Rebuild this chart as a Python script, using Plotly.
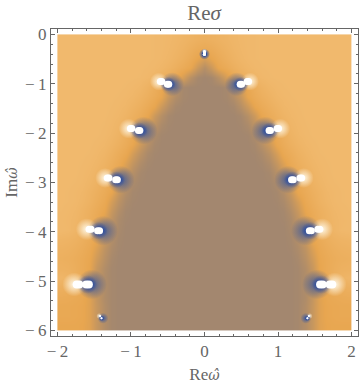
import plotly.graph_objects as go

# half of the density plot, x = 0..2 step 0.1, mirrored for x < 0
x_half = [0.0, 0.1, 0.2, 0.3, 0.4, 0.5, 0.6, 0.7, 0.8, 0.9, 1.0, 1.1, 1.2, 1.3, 1.4, 1.5, 1.6, 1.7, 1.8, 1.9, 2.0]
y_rows = [0.0, -0.2, -0.4, -0.6, -0.8, -1.0, -1.2, -1.4, -1.6, -1.8, -2.0, -2.2, -2.4, -2.6, -2.8, -3.0,
          -3.2, -3.4, -3.6, -3.8, -4.0, -4.2, -4.4, -4.6, -4.8, -5.0, -5.2, -5.4, -5.6, -5.8, -6.0]
# 0 = tan inside, 50 = orange ridge, 100 = light orange outside
z_half = [
    [72, 74, 78, 82, 86, 89, 91, 92, 93, 93, 93, 93, 93, 93, 93, 93, 93, 93, 93, 93, 93],
    [60, 64, 71, 78, 84, 88, 91, 92, 93, 93, 93, 93, 93, 93, 93, 93, 93, 93, 93, 93, 93],
    [38, 50, 62, 72, 80, 86, 90, 92, 93, 93, 93, 93, 93, 93, 93, 93, 93, 93, 93, 93, 93],
    [14, 30, 52, 62, 72, 80, 86, 90, 92, 93, 93, 93, 93, 93, 93, 93, 93, 93, 93, 93, 93],
    [0, 3, 16, 36, 56, 66, 76, 84, 89, 92, 93, 93, 93, 93, 93, 93, 93, 93, 93, 93, 93],
    [0, 0, 0, 2, 11, 30, 54, 68, 78, 86, 90, 92, 93, 93, 93, 93, 93, 93, 93, 93, 93],
    [0, 0, 0, 2, 11, 26, 50, 62, 72, 80, 87, 90, 92, 93, 93, 93, 93, 93, 93, 93, 93],
    [0, 0, 0, 0, 3, 14, 30, 50, 62, 72, 80, 87, 90, 92, 93, 93, 93, 93, 93, 93, 93],
    [0, 0, 0, 0, 0, 3, 14, 30, 52, 64, 74, 82, 88, 91, 93, 93, 93, 93, 93, 93, 93],
    [0, 0, 0, 0, 0, 1, 6, 18, 36, 56, 66, 76, 84, 89, 92, 93, 93, 93, 93, 93, 93],
    [0, 0, 0, 0, 0, 0, 1, 7, 20, 40, 58, 70, 80, 87, 91, 93, 93, 93, 93, 93, 93],
    [0, 0, 0, 0, 0, 0, 0, 3, 14, 30, 52, 64, 74, 82, 88, 91, 93, 93, 93, 93, 93],
    [0, 0, 0, 0, 0, 0, 0, 1, 6, 18, 36, 56, 66, 76, 84, 89, 92, 93, 93, 93, 93],
    [0, 0, 0, 0, 0, 0, 0, 0, 2, 9, 24, 42, 59, 70, 79, 86, 90, 92, 93, 93, 93],
    [0, 0, 0, 0, 0, 0, 0, 0, 0, 3, 14, 30, 52, 64, 74, 82, 88, 91, 93, 93, 93],
    [0, 0, 0, 0, 0, 0, 0, 0, 0, 1, 6, 18, 36, 56, 68, 78, 85, 90, 92, 93, 93],
    [0, 0, 0, 0, 0, 0, 0, 0, 0, 0, 2, 11, 26, 50, 62, 72, 80, 87, 90, 92, 93],
    [0, 0, 0, 0, 0, 0, 0, 0, 0, 0, 1, 6, 18, 36, 57, 68, 78, 85, 90, 92, 93],
    [0, 0, 0, 0, 0, 0, 0, 0, 0, 0, 0, 2, 11, 26, 50, 62, 72, 80, 87, 90, 92],
    [0, 0, 0, 0, 0, 0, 0, 0, 0, 0, 0, 1, 6, 19, 40, 58, 70, 78, 85, 89, 91],
    [0, 0, 0, 0, 0, 0, 0, 0, 0, 0, 0, 0, 4, 16, 33, 54, 66, 76, 84, 90, 92],
    [0, 0, 0, 0, 0, 0, 0, 0, 0, 0, 0, 0, 2, 11, 26, 50, 62, 70, 76, 80, 82],
    [0, 0, 0, 0, 0, 0, 0, 0, 0, 0, 0, 0, 1, 7, 20, 40, 56, 64, 70, 74, 76],
    [0, 0, 0, 0, 0, 0, 0, 0, 0, 0, 0, 0, 0, 4, 16, 33, 52, 60, 66, 70, 72],
    [0, 0, 0, 0, 0, 0, 0, 0, 0, 0, 0, 0, 0, 2, 11, 26, 50, 60, 68, 74, 76],
    [0, 0, 0, 0, 0, 0, 0, 0, 0, 0, 0, 0, 0, 2, 9, 24, 44, 60, 72, 82, 86],
    [0, 0, 0, 0, 0, 0, 0, 0, 0, 0, 0, 0, 0, 2, 9, 24, 44, 58, 64, 70, 72],
    [0, 0, 0, 0, 0, 0, 0, 0, 0, 0, 0, 0, 0, 2, 9, 24, 44, 54, 58, 60, 62],
    [0, 0, 0, 0, 0, 0, 0, 0, 0, 0, 0, 0, 0, 2, 11, 26, 44, 52, 54, 56, 56],
    [0, 0, 0, 0, 0, 0, 0, 0, 0, 0, 0, 0, 0, 2, 11, 26, 44, 52, 54, 56, 56],
    [0, 0, 0, 0, 0, 0, 0, 0, 0, 0, 0, 0, 0, 2, 11, 26, 44, 50, 52, 52, 52],
]

# poles on the right half (mirrored): blue inner ones and white outer ones
inner_x = [0.0, 0.495, 0.888, 1.196, 1.44, 1.59, 1.40]
inner_y = [-0.40, -1.01, -1.95, -2.945, -3.98, -5.07, -5.755]
outer_x = [0.0, 0.59, 0.997, 1.31, 1.555, 1.72, 1.42]
outer_y = [-0.35, -0.957, -1.91, -2.91, -3.95, -5.07, -5.71]
# white blobs are wider than tall: two overlapping dots, blob_dx either side of the pole
blob_size = [3, 7, 7, 7, 7, 8, 2]
blob_dx = [0.0, 0.01, 0.01, 0.012, 0.014, 0.018, 0.0]
# centres of the halos sit a little inward / outward of the poles
halo_x = [0.0, 0.44, 0.83, 1.14, 1.38, 1.53, 1.38]
halo_size = [11, 24, 28, 28, 30, 30, 11]
core_size = [6, 15, 17, 17, 18, 19, 6]
glow_x = [0.0, 0.62, 1.03, 1.35, 1.60, 1.77, 1.43]
glow_size = [6, 18, 20, 20, 22, 24, 6]

x_ticks = [-2, -1, 0, 1, 2]
y_ticks = [0, -1, -2, -3, -4, -5, -6]
grey = '#666666'
serif = 'Liberation Serif'
omega_hat = '<span style="font-family:DejaVu Serif;font-style:italic;font-size:14px">\u03c9\u0302</span>'


def label(v):
    return str(v) if v >= 0 else '\u2212\u2009' + str(-v)


def both_sides(vals):
    return list(vals) + [-v for v in vals]


# heatmap cells reach half a step past their centres, so pull the centres in to stop at x=+-2, y=0, y=-6
x_full = [-v * 40 / 41 for v in x_half[:0:-1]] + [v * 40 / 41 for v in x_half]
y_full = [-3 + (v + 3) * 30 / 31 for v in y_rows]
z_full = [row[:0:-1] + row for row in z_half]

# each pole gives two white dots, on both sides of x=0
poles_x = inner_x + outer_x
poles_y = inner_y + outer_y
dots_dx = blob_dx + blob_dx
dots_x = [p - d for p, d in zip(poles_x, dots_dx)] + [p + d for p, d in zip(poles_x, dots_dx)]
dots_y = poles_y * 2
dots_size = (blob_size + blob_size) * 2

fig = go.Figure()
fig.add_trace(go.Heatmap(
    x=x_full, y=y_full, z=z_full,
    zmin=0, zmax=100, zsmooth='best', showscale=False, hoverinfo='skip',
    colorscale=[[0, '#A3876F'], [0.5, '#E8A650'], [1, '#F2BC72']],
))
# white glow round the outer poles
fig.add_trace(go.Scatter(
    x=both_sides(glow_x), y=outer_y * 2, mode='markers', showlegend=False,
    marker=dict(size=glow_size * 2, color='rgba(255,248,230,0)', line_width=0, opacity=1,
                gradient=dict(type='radial', color='rgba(255,248,230,1)')),
))
# blue halo round the inner poles
fig.add_trace(go.Scatter(
    x=both_sides(halo_x), y=inner_y * 2, mode='markers', showlegend=False,
    marker=dict(size=halo_size * 2, color='rgba(40,80,165,0)', line_width=0, opacity=1,
                gradient=dict(type='radial', color='rgba(40,80,165,0.85)')),
))
fig.add_trace(go.Scatter(
    x=both_sides(inner_x), y=inner_y * 2, mode='markers', showlegend=False,
    marker=dict(size=core_size * 2, color='rgba(25,65,165,0)', line_width=0, opacity=1,
                gradient=dict(type='radial', color='rgba(25,65,165,1)')),
))
fig.add_trace(go.Scatter(
    x=both_sides(dots_x), y=dots_y * 2, mode='markers', showlegend=False,
    marker=dict(size=dots_size * 2, color='white', line_width=0, opacity=1),
))

axis_style = dict(
    showgrid=False, zeroline=False, showline=True, linecolor=grey, linewidth=1, mirror='ticks',
    ticks='inside', ticklen=4, tickcolor=grey, tickwidth=1,
    tickfont=dict(family=serif, size=17, color=grey),
)
fig.update_xaxes(
    range=[-2.087, 2.088], tickvals=x_ticks, ticktext=[label(v) for v in x_ticks],
    minor=dict(dtick=0.2, ticks='inside', ticklen=2, tickcolor=grey, tickwidth=1, showgrid=False),
    title=dict(text='Re' + omega_hat, font=dict(family=serif, size=17, color=grey), standoff=7),
    **axis_style,
)
fig.update_yaxes(
    range=[-6.115, 0.11], tickvals=y_ticks, ticktext=[label(v) for v in y_ticks],
    minor=dict(dtick=0.2, ticks='inside', ticklen=2, tickcolor=grey, tickwidth=1, showgrid=False),
    title=dict(text='Im' + omega_hat, font=dict(family=serif, size=17, color=grey), standoff=3),
    **axis_style,
)
fig.update_layout(
    width=360, height=386, margin=dict(l=51, r=2, t=29, b=50, autoexpand=False),
    paper_bgcolor='white', plot_bgcolor='white', showlegend=False,
    title=dict(text='Re<i>\u03c3</i>', font=dict(family=serif, size=21, color=grey),
               x=204 / 360, xanchor='center', y=1 - 13 / 386, yanchor='middle'),
)
fig.write_html("out.html", config=dict(displayModeBar=False),
               post_script="document.body.style.margin='0';")
